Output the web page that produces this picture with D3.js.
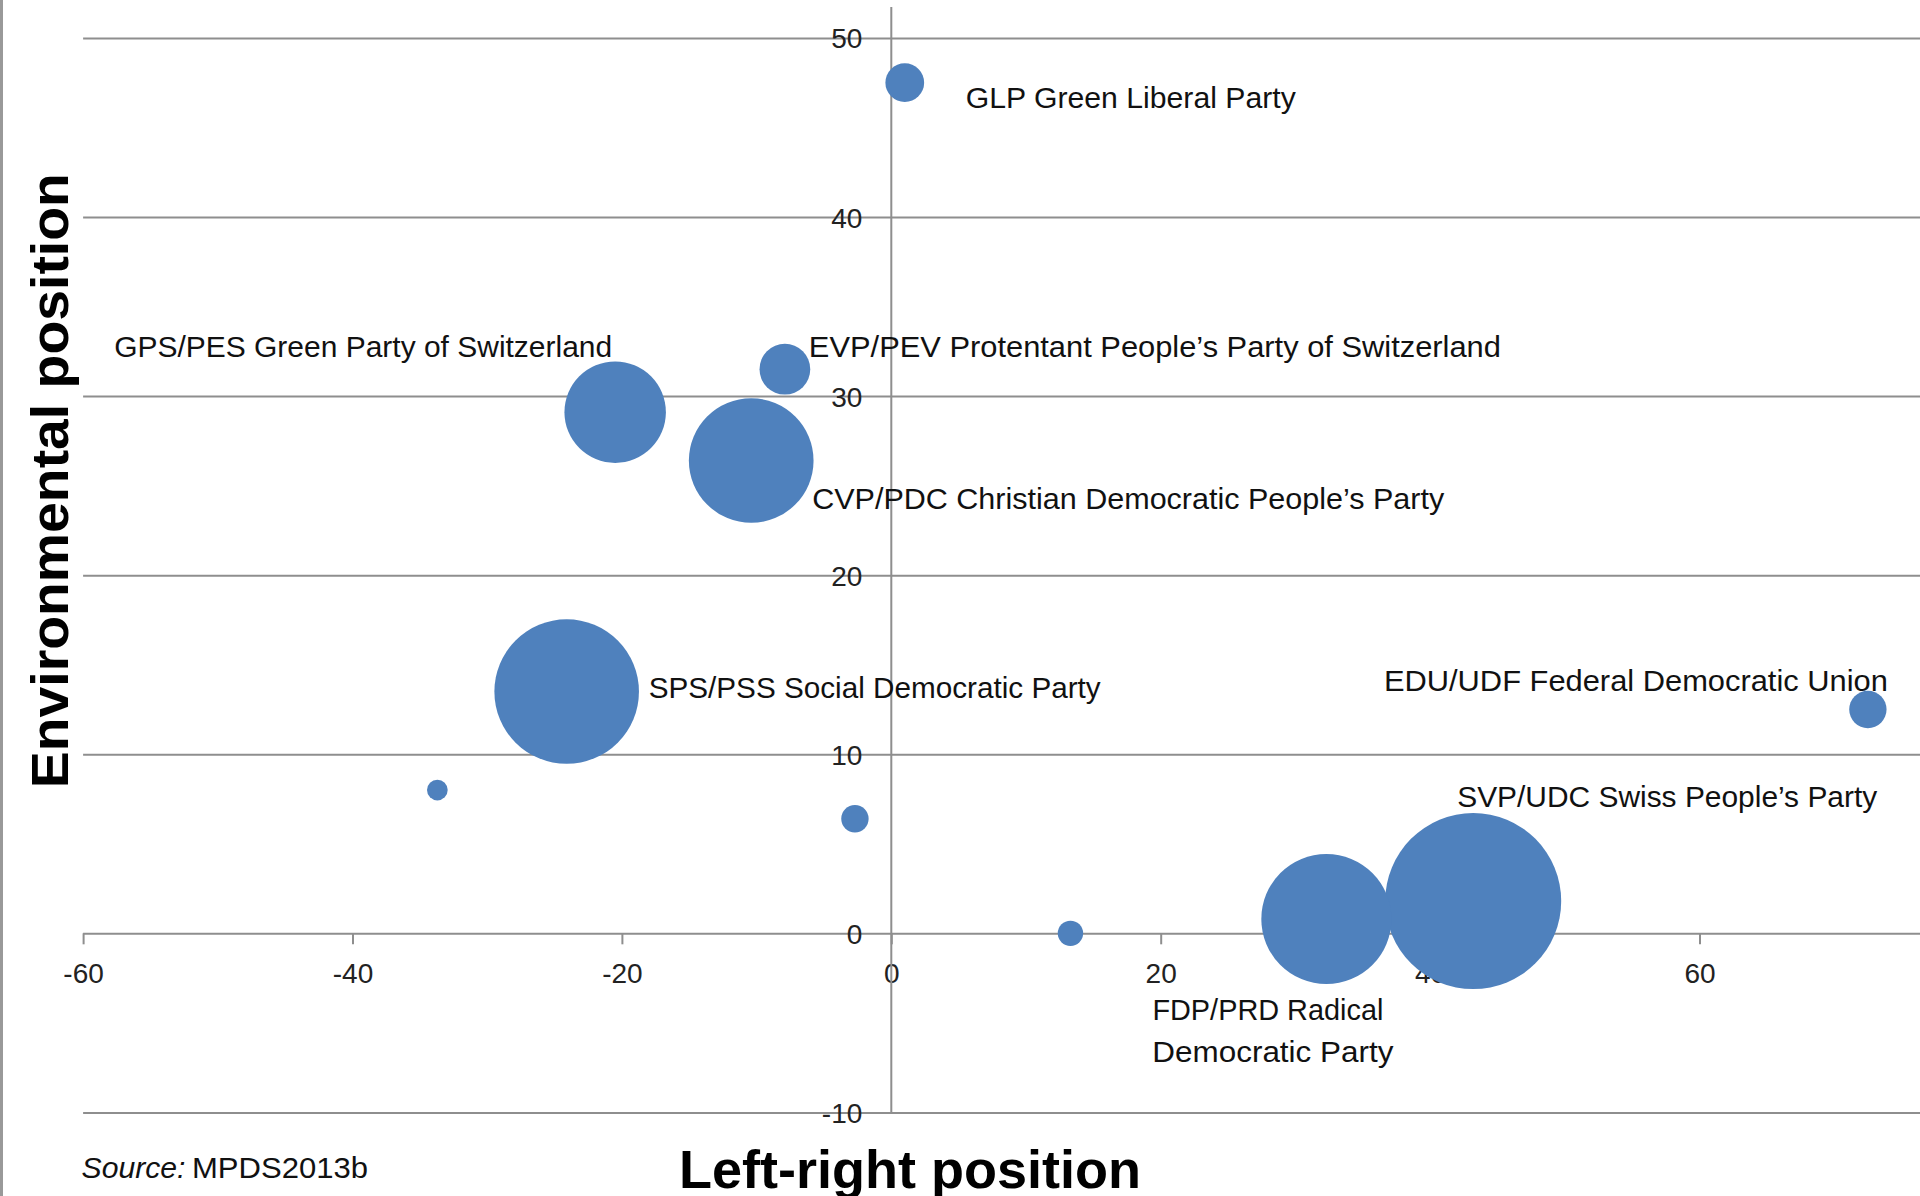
<!DOCTYPE html>
<html>
<head>
<meta charset="utf-8">
<script src="https://cdn.jsdelivr.net/npm/d3@7"></script>
<style>
    html, body { margin: 0; padding: 0; background: #fff; }
    svg { display: block; font-family: "Liberation Sans", Arial, sans-serif; }
</style>
</head>
<body>
<svg id="chart" width="1920" height="1196"></svg>
<script>
// Party positions (MPDS2013b), bubble size = seat share
const parties = ["SVP/UDC", "SPS/PSS", "FDP/PRD", "CVP/PDC", "GPS/PES", "EVP/PEV", "GLP", "EDU/UDF", "PdA", "Lega", "CSP"];
const partyLabels = [
    ["SVP/UDC Swiss People\u2019s Party"],
    ["SPS/PSS Social Democratic Party"],
    ["FDP/PRD Radical", "Democratic Party"],
    ["CVP/PDC Christian Democratic People\u2019s Party"],
    ["GPS/PES Green Party of Switzerland"],
    ["EVP/PEV Protentant People\u2019s Party of Switzerland"],
    ["GLP Green Liberal Party"],
    ["EDU/UDF Federal Democratic Union"],
    [],
    [],
    [],
];
const leftRight = [43.2, -24.1, 32.3, -10.4, -20.5, -7.9, 1.0, 72.5, -2.7, 13.3, -33.7];
const environment = [1.8, 13.5, 0.8, 26.4, 29.1, 31.5, 47.5, 12.5, 6.4, 0.0, 8.0];
const seatShare = [28.9, 19.5, 15.8, 14.5, 9.6, 2.4, 1.4, 1.3, 0.7, 0.6, 0.4];

const xTicks = [-60, -40, -20, 0, 20, 40, 60];
const yTicks = [-10, 0, 10, 20, 30, 40, 50];

// label offsets from the bubble centre and line widths, in px
const labelPlacement = {
    "SVP/UDC": { dx: -16, dy: -94, anchor: "start", widths: [420] },
    "SPS/PSS": { dx: 82, dy: 6, anchor: "start", widths: [452] },
    "FDP/PRD": { dx: -174, dy: 101, anchor: "start", widths: [231, 241] },
    "CVP/PDC": { dx: 61, dy: 48, anchor: "start", widths: [632] },
    "GPS/PES": { dx: -3, dy: -55, anchor: "end", widths: [498] },
    "EVP/PEV": { dx: 24, dy: -12, anchor: "start", widths: [692] },
    "GLP": { dx: 61, dy: 25, anchor: "start", widths: [330] },
    "EDU/UDF": { dx: 20, dy: -18, anchor: "end", widths: [504] },
};

const width = 1920;
const height = 1196;
const plot = { left: 83.1, right: 1968.9, top: 37.9, bottom: 1112.4, axisTop: 7 };
const gridColor = "#8e8e8e";
const bubbleColor = "#4f81bd";

const svg = d3.select("#chart");

const x = d3.scaleLinear().domain([-60, 80]).range([plot.left, plot.right]);
const y = d3.scaleLinear().domain([-10, 50]).range([plot.bottom, plot.top]);
const r = d3.scaleSqrt().domain([0, 28.9]).range([0, 88]);

const data = parties.map((p, i) => ({
    id: p,
    lines: partyLabels[i],
    lr: leftRight[i],
    env: environment[i],
    size: seatShare[i],
}));

function minusSign(d) {
    return d < 0 ? "-" + Math.abs(d) : d;
}

// left border of the picture
svg.append("line")
    .attr("x1", 1.5).attr("x2", 1.5)
    .attr("y1", 0).attr("y2", height)
    .attr("stroke", "#999").attr("stroke-width", 3);

// horizontal gridlines
const yGrid = d3.axisLeft(y).tickValues(yTicks).tickFormat("").tickSize(-(width - plot.left));
svg.append("g")
    .attr("class", "grid y")
    .attr("transform", `translate(${plot.left},0)`)
    .call(yGrid)
    .call((g) => g.select(".domain").remove())
    .selectAll("line")
    .attr("stroke", gridColor)
    .attr("stroke-width", 2);

// x axis sits at y = 0
const xAxis = d3.axisBottom(x).tickValues(xTicks).tickSize(11).tickPadding(19).tickFormat(minusSign);
const gx = svg.append("g")
    .attr("class", "axis x")
    .attr("transform", `translate(0,${y(0)})`)
    .call(xAxis);
gx.select(".domain").remove();
gx.selectAll("line").attr("stroke", gridColor).attr("stroke-width", 2);
gx.selectAll("text").attr("font-size", 28).attr("fill", "#222");

// y axis sits at x = 0
svg.append("line")
    .attr("x1", x(0)).attr("x2", x(0))
    .attr("y1", plot.axisTop).attr("y2", y(-10))
    .attr("stroke", gridColor).attr("stroke-width", 2);

const yAxis = d3.axisLeft(y).tickValues(yTicks).tickSize(0).tickPadding(29).tickFormat(minusSign);
const gy = svg.append("g")
    .attr("class", "axis y")
    .attr("transform", `translate(${x(0)},0)`)
    .call(yAxis);
gy.select(".domain").remove();
gy.selectAll("text")
    .attr("font-size", 28)
    .attr("fill", "#222")
    .attr("dy", "0.36em");

// bubbles, biggest first so small ones stay visible
svg.append("g")
    .attr("class", "bubbles")
    .selectAll("circle")
    .data(data.slice().sort((a, b) => b.size - a.size))
    .join("circle")
    .attr("cx", (d) => x(d.lr))
    .attr("cy", (d) => y(d.env))
    .attr("r", (d) => r(d.size))
    .attr("fill", bubbleColor);

// party labels
const labels = svg.append("g")
    .attr("class", "labels")
    .selectAll("text")
    .data(data.filter((d) => d.lines.length))
    .join("text")
    .attr("font-size", 30)
    .attr("fill", "#111")
    .attr("text-anchor", (d) => labelPlacement[d.id].anchor)
    .attr("x", (d) => x(d.lr) + labelPlacement[d.id].dx)
    .attr("y", (d) => y(d.env) + labelPlacement[d.id].dy);

labels.selectAll("tspan")
    .data((d) => d.lines.map((line, i) => ({ line, i, d })))
    .join("tspan")
    .attr("x", (t) => x(t.d.lr) + labelPlacement[t.d.id].dx)
    .attr("dy", (t) => (t.i === 0 ? 0 : 42))
    .attr("textLength", (t) => labelPlacement[t.d.id].widths[t.i])
    .attr("lengthAdjust", "spacingAndGlyphs")
    .text((t) => t.line);

// axis titles
svg.append("text")
    .attr("x", 910)
    .attr("y", 1188)
    .attr("text-anchor", "middle")
    .attr("font-size", 54)
    .attr("font-weight", "bold")
    .attr("fill", "#000")
    .text("Left-right position");

svg.append("text")
    .attr("transform", "translate(68,480.7) rotate(-90)")
    .attr("text-anchor", "middle")
    .attr("font-size", 51)
    .attr("font-weight", "bold")
    .attr("fill", "#000")
    .attr("textLength", 615)
    .attr("lengthAdjust", "spacingAndGlyphs")
    .text("Environmental position");

// source note
svg.append("text")
    .attr("x", 81.5)
    .attr("y", 1178)
    .attr("font-size", 29)
    .attr("font-style", "italic")
    .attr("fill", "#111")
    .attr("textLength", 104)
    .attr("lengthAdjust", "spacingAndGlyphs")
    .text("Source:");

svg.append("text")
    .attr("x", 192)
    .attr("y", 1178)
    .attr("font-size", 29)
    .attr("fill", "#111")
    .attr("textLength", 176)
    .attr("lengthAdjust", "spacingAndGlyphs")
    .text("MPDS2013b");
</script>
</body>
</html>
